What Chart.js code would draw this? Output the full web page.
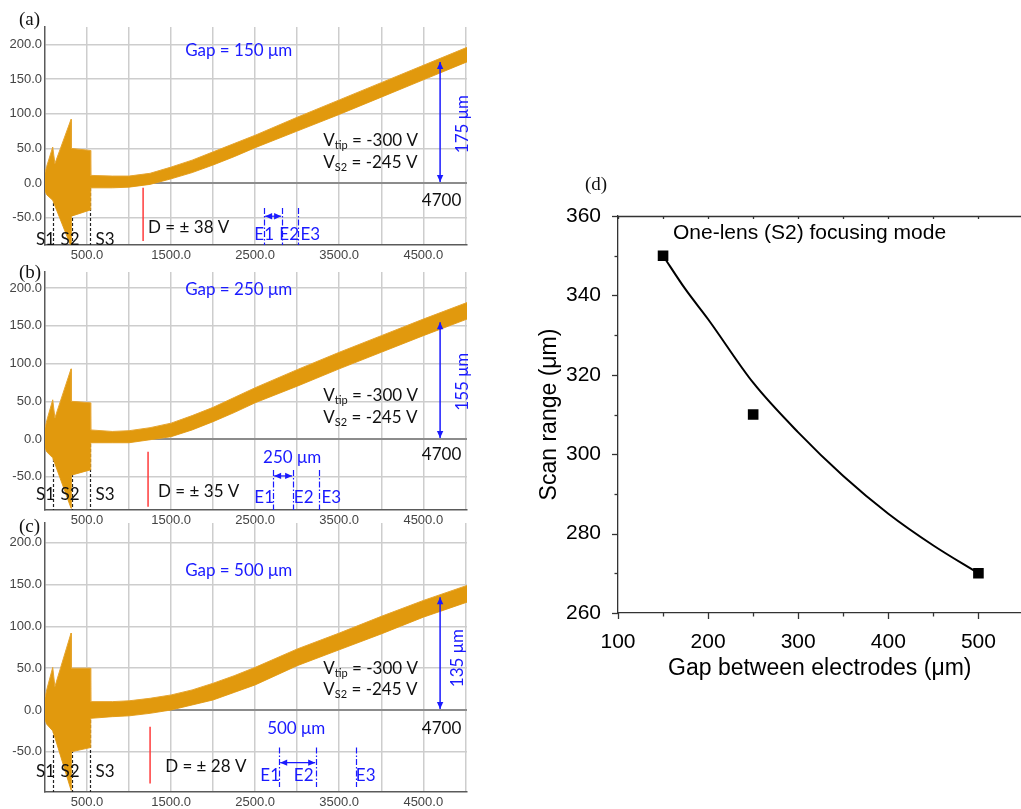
<!DOCTYPE html>
<html>
<head>
<meta charset="utf-8">
<script src="https://cdn.jsdelivr.net/npm/chart.js@4/dist/chart.umd.min.js"></script>
<style>
  body { margin: 0; background: #fff; }
  #wrap { position: relative; width: 1021px; height: 809px; overflow: hidden; }
  canvas { position: absolute; }
  .tag { position: absolute; font-family: "Liberation Serif", "Times New Roman", serif; font-size: 19px; color: #111; line-height: 1; }
</style>
</head>
<body>
<div id="wrap">
  <canvas id="pa" width="475" height="262" style="left:0;top:0"></canvas>
  <canvas id="pb" width="475" height="271" style="left:0;top:256px"></canvas>
  <canvas id="pc" width="475" height="297" style="left:0;top:512px"></canvas>
  <canvas id="pd" width="509" height="540" style="left:520px;top:160px"></canvas>
  <div class="tag" style="left:19px;top:9px">(a)</div>
  <div class="tag" style="left:19px;top:262px">(b)</div>
  <div class="tag" style="left:19px;top:516px">(c)</div>
  <div class="tag" style="left:585px;top:174px">(d)</div>
</div>
<script>
// beam envelope (position along column, µm) -> upper / lower edge (µm)
const beamX  = [0, 20, 92, 118, 310, 314, 540, 544, 800, 1000, 1250, 1500, 1750, 2000, 2250, 2500, 3000, 3500, 4000, 4500, 5020];
const upperA = [15, 24, 52, 28, 92, 50, 47, 11, 10, 10, 14, 23, 33, 45, 57, 69, 95, 120, 145, 170, 196];
const lowerA = [-12, -17, -25, -33, -92, -48, -39, -7, -7, -6, -2, 6, 15, 26, 38, 51, 75, 99, 124, 149, 175];
const upperB = [15, 24, 52, 28, 93, 50, 48, 12, 10, 11, 15, 21, 31, 42, 55, 68, 92, 115, 137, 159, 181];
const lowerB = [-12, -17, -25, -33, -92, -48, -41, -5, -5, -5, -1, 3, 12, 23, 35, 48, 70, 93, 115, 137, 159];
const upperC = [15, 24, 51, 28, 92, 50, 50, 10, 10, 11, 14, 18, 24, 32, 41, 51, 73, 92, 112, 131, 149];
const lowerC = [-12, -17, -25, -33, -96, -50, -45, -10, -8, -7, -4, 0, 6, 12, 21, 30, 53, 72, 91, 111, 129];

const gaps      = [150, 250, 500];   // electrode gap, µm
const halfRange = [175, 155, 135];   // deflection at z = 4700, µm
const deflectV  = [38, 35, 28];      // deflector voltage, ±V
const screenZ   = 4700;

const electrodeS = [95, 322, 540];   // S1, S2, S3
const xGrid    = [500, 1000, 1500, 2000, 2500, 3000, 3500, 4000, 4500, 5000];
const xLabeled = [500, 1500, 2500, 3500, 4500];
const yTicks   = [-50, 0, 50, 100, 150, 200];

// panel (d): scan range vs gap
const gapD   = [150, 250, 500];
const scanD  = [350, 310, 270];
const fitX   = [150, 175, 200, 250, 300, 350, 400, 450, 500];
const fitY   = [350, 341.5, 334, 318, 305.5, 294.5, 285, 277, 270];
const xTicksD = [100, 150, 200, 250, 300, 350, 400, 450, 500];
const yTicksD = [260, 270, 280, 290, 300, 310, 320, 330, 340, 350, 360];

const BLUE = '#1a1aff';
const NOTE_FONT = 'Lato, "Open Sans", sans-serif';
const xy = (xs, ys) => xs.map((v, i) => ({ x: v, y: ys[i] }));

function arrowHead(ctx, x, y, ang) {
  const L = 7, W = 3.2;
  ctx.beginPath();
  ctx.moveTo(x, y);
  ctx.lineTo(x - L * Math.cos(ang) + W * Math.sin(ang), y - L * Math.sin(ang) - W * Math.cos(ang));
  ctx.lineTo(x - L * Math.cos(ang) - W * Math.sin(ang), y - L * Math.sin(ang) + W * Math.cos(ang));
  ctx.closePath();
  ctx.fill();
}
function doubleArrow(ctx, x1, y1, x2, y2) {
  ctx.beginPath(); ctx.moveTo(x1, y1); ctx.lineTo(x2, y2); ctx.stroke();
  const ang = Math.atan2(y2 - y1, x2 - x1);
  arrowHead(ctx, x2, y2, ang);
  arrowHead(ctx, x1, y1, ang + Math.PI);
}

const notes = {
  id: 'notes',
  beforeDatasetsDraw(chart, args, o) {
    const { ctx, chartArea: a, scales: { x, y } } = chart;
    ctx.save();
    ctx.strokeStyle = '#222';
    ctx.lineWidth = 1.2;
    ctx.setLineDash([3, 2]);
    electrodeS.forEach(v => {
      const px = Math.round(x.getPixelForValue(v)) + 0.5;
      ctx.beginPath(); ctx.moveTo(px, y.getPixelForValue(0)); ctx.lineTo(px, a.bottom); ctx.stroke();
    });
    ctx.restore();
  },
  afterDatasetsDraw(chart, args, o) {
    const { ctx, chartArea: a, scales: { x, y } } = chart;
    const X = v => x.getPixelForValue(v), Y = v => y.getPixelForValue(v);
    const i = o.index;
    ctx.save();
    ctx.textBaseline = 'middle';

    // deflector position (red)
    ctx.strokeStyle = '#ff3b3b'; ctx.lineWidth = 1.5;
    ctx.beginPath(); ctx.moveTo(X(o.red[0]), Y(o.red[1])); ctx.lineTo(X(o.red[0]), Y(o.red[2])); ctx.stroke();

    // einzel electrodes E1..E3
    ctx.strokeStyle = BLUE; ctx.fillStyle = BLUE; ctx.lineWidth = 1.2;
    ctx.setLineDash([6, 2, 1.5, 2]);
    o.eX.forEach(v => {
      const px = Math.round(X(v)) + 0.5;
      ctx.beginPath(); ctx.moveTo(px, Y(o.eTop)); ctx.lineTo(px, o.eBot == null ? a.bottom : Y(o.eBot)); ctx.stroke();
    });
    ctx.setLineDash([]);
    doubleArrow(ctx, X(o.eX[0]) + 1, Y(o.eArrowY), X(o.eX[1]) - 1, Y(o.eArrowY));

    // scan range arrow at the screen
    ctx.lineWidth = 1.5;
    doubleArrow(ctx, X(screenZ), Y(0) - 1, X(screenZ), Y(halfRange[i]));

    ctx.font = '17px ' + NOTE_FONT;
    ctx.textAlign = 'center';
    ['E1', 'E2', 'E3'].forEach((t, k) => ctx.fillText(t, X(o.eLabX[k]), Y(o.eLabY)));
    if (o.spacing) ctx.fillText(o.spacing[2], X(o.spacing[0]), Y(o.spacing[1]));
    ctx.textAlign = 'left';
    ctx.fillText('Gap = ' + gaps[i] + ' μm', X(o.gapAt[0]), Y(o.gapAt[1]));

    ctx.save();
    ctx.translate(X(o.rangeAt[0]), Y(o.rangeAt[1]));
    ctx.rotate(-Math.PI / 2);
    ctx.textAlign = 'center';
    ctx.fillText(halfRange[i] + ' μm', 0, 0);
    ctx.restore();

    // black labels
    ctx.fillStyle = '#111';
    ctx.textAlign = 'right';
    ctx.fillText(String(screenZ), X(o.numAt[0]), Y(o.numAt[1]));
    ctx.textAlign = 'left';
    ctx.fillText('D = ± ' + deflectV[i] + ' V', X(o.dAt[0]), Y(o.dAt[1]));
    ctx.textAlign = 'center';
    ['S1', 'S2', 'S3'].forEach((t, k) => ctx.fillText(t, o.sLabPx[k], Y(o.sLabY)));

    // V_tip / V_S2 with subscripts
    ctx.textAlign = 'left';
    [['tip', '-300 V', o.vAt[1]], ['S2', '-245 V', o.vAt[2]]].forEach(([sub, rest, yv]) => {
      let px = X(o.vAt[0]);
      const py = Y(yv);
      ctx.font = '17px ' + NOTE_FONT;
      ctx.fillText('V', px, py); px += ctx.measureText('V').width;
      ctx.font = '11px ' + NOTE_FONT;
      ctx.fillText(sub, px, py + 5); px += ctx.measureText(sub).width;
      ctx.font = '17px ' + NOTE_FONT;
      ctx.fillText(' = ' + rest, px, py);
    });
    ctx.restore();
  }
};

const panels = [
  { id: 'pa', upper: upperA, lower: lowerA, yMin: -89.6, yMax: 225.4, top: 27, xAxisH: 17,
    notes: { index: 0, gapAt: [1667, 192], vAt: [3310, 62, 30], numAt: [4952, -25], rangeAt: [4964, 85],
      dAt: [1226, -65], red: [1167, -7, -84], eX: [2607, 2821, 3012], eTop: -36, eBot: null, eArrowY: -48,
      eLabX: [2607, 2905, 3155], eLabY: -75, spacing: null, sLabPx: [45.5, 70, 105], sLabY: -82 } },
  { id: 'pb', upper: upperB, lower: lowerB, yMin: -94.2, yMax: 221.5, top: 16, xAxisH: 17,
    notes: { index: 1, gapAt: [1667, 198], vAt: [3310, 58, 29], numAt: [4952, -21], rangeAt: [4964, 76],
      dAt: [1345, -70], red: [1226, -17, -90], eX: [2714, 2952, 3262], eTop: -41, eBot: null, eArrowY: -49,
      eLabX: [2607, 3077, 3405], eLabY: -77, spacing: [2940, -24, '250 μm'], sLabPx: [45.5, 70, 105], sLabY: -74 } },
  { id: 'pc', upper: upperC, lower: lowerC, yMin: -98.1, yMax: 223.7, top: 11, xAxisH: 17,
    notes: { index: 2, gapAt: [1667, 167], vAt: [3310, 50, 24], numAt: [4952, -22], rangeAt: [4905, 62],
      dAt: [1429, -68], red: [1250, -20, -88], eX: [2786, 3226, 3702], eTop: -45, eBot: -92, eArrowY: -63,
      eLabX: [2679, 3077, 3815], eLabY: -78, spacing: [2988, -22, '500 μm'], sLabPx: [45.5, 70, 105], sLabY: -74 } }
];

const tickFont = { family: '"Liberation Sans", Arial, sans-serif', size: 13 };

panels.forEach(p => {
  new Chart(document.getElementById(p.id), {
    type: 'line',
    data: {
      datasets: [
        { data: xy(beamX, p.upper), fill: '+1', backgroundColor: '#e1990d', borderColor: '#e6a530',
          borderWidth: 1, pointRadius: 0, tension: 0 },
        { data: xy(beamX, p.lower), fill: false, borderColor: '#e6a530', borderWidth: 1, pointRadius: 0, tension: 0 }
      ]
    },
    options: {
      responsive: false,
      animation: false,
      events: [],
      layout: { padding: { top: p.top, right: 8, left: 0, bottom: 0 } },
      plugins: { legend: { display: false }, tooltip: { enabled: false }, notes: p.notes },
      scales: {
        x: {
          type: 'linear', min: 0, max: 5020,
          afterBuildTicks: s => { s.ticks = xGrid.map(v => ({ value: v })); },
          afterFit: s => { s.height = p.xAxisH; },
          grid: { color: '#cdcdcd', lineWidth: 1.5, drawTicks: false },
          border: { color: '#5a5a5a', width: 1.5 },
          ticks: { autoSkip: false, maxRotation: 0, padding: 3, color: '#444', font: tickFont,
            callback: v => xLabeled.includes(v) ? v.toFixed(1) : '' }
        },
        y: {
          type: 'linear', min: p.yMin, max: p.yMax,
          afterBuildTicks: s => { s.ticks = yTicks.map(v => ({ value: v })); },
          afterFit: s => { s.width = 45; },
          grid: { drawTicks: false,
            color: c => c.tick && c.tick.value === 0 ? '#8c8c8c' : '#cdcdcd',
            lineWidth: c => c.tick && c.tick.value === 0 ? 2 : 1.5 },
          border: { color: '#5a5a5a', width: 1.5 },
          ticks: { padding: 3, color: '#444', font: tickFont, callback: v => v.toFixed(1) }
        }
      }
    },
    plugins: [notes]
  });
});

// axis ticks, top frame and caption for panel (d)
const frameD = {
  id: 'frameD',
  afterDraw(chart) {
    const { ctx, chartArea: a, scales: { x, y } } = chart;
    ctx.save();
    ctx.strokeStyle = '#333';
    ctx.lineWidth = 1.3;
    ctx.beginPath(); ctx.moveTo(a.left, a.top + 0.5); ctx.lineTo(a.right + 5, a.top + 0.5); ctx.stroke();
    xTicksD.forEach(v => {
      const px = Math.round(x.getPixelForValue(v)) + 0.5;
      const len = v % 100 === 0 ? 6 : 3.5;
      ctx.beginPath(); ctx.moveTo(px, a.bottom); ctx.lineTo(px, a.bottom + len); ctx.stroke();
      ctx.beginPath(); ctx.moveTo(px, a.top); ctx.lineTo(px, a.top + 3); ctx.stroke();
    });
    yTicksD.forEach(v => {
      const py = Math.round(y.getPixelForValue(v)) + 0.5;
      const len = v % 20 === 0 ? 6 : 3.5;
      ctx.beginPath(); ctx.moveTo(a.left, py); ctx.lineTo(a.left - len, py); ctx.stroke();
    });
    ctx.fillStyle = '#000';
    ctx.font = '21px "Liberation Sans", Arial, sans-serif';
    ctx.textBaseline = 'middle';
    ctx.fillText('One-lens (S2) focusing mode', x.getPixelForValue(161), y.getPixelForValue(355.7));
    ctx.restore();
  }
};

const fontD = { family: '"Liberation Sans", Arial, sans-serif', size: 21 };
new Chart(document.getElementById('pd'), {
  type: 'scatter',
  data: {
    datasets: [
      { type: 'line', data: xy(fitX, fitY), borderColor: '#000', borderWidth: 2, pointRadius: 0,
        cubicInterpolationMode: 'monotone', fill: false },
      { data: xy(gapD, scanD), pointStyle: 'rect', pointRadius: 7.5, backgroundColor: '#000', borderColor: '#000', borderWidth: 0 }
    ]
  },
  options: {
    responsive: false,
    animation: false,
    events: [],
    layout: { padding: { top: 56, right: 0, left: 0, bottom: 0 } },
    plugins: { legend: { display: false }, tooltip: { enabled: false } },
    scales: {
      x: {
        type: 'linear', min: 100, max: 547.8,
        afterBuildTicks: s => { s.ticks = xTicksD.map(v => ({ value: v })); },
        afterFit: s => { s.height = 87; },
        grid: { display: false },
        border: { color: '#333', width: 1.3 },
        ticks: { autoSkip: false, maxRotation: 0, padding: 9, color: '#000', font: fontD,
          callback: v => v % 100 === 0 ? String(v) : '' },
        title: { display: true, text: 'Gap between electrodes (μm)', color: '#000',
          font: { family: fontD.family, size: 23 }, padding: { bottom: 18 } }
      },
      y: {
        type: 'linear', min: 260, max: 360,
        afterBuildTicks: s => { s.ticks = yTicksD.map(v => ({ value: v })); },
        afterFit: s => { s.width = 98; },
        grid: { display: false },
        border: { color: '#333', width: 1.3 },
        ticks: { padding: 9, color: '#000', font: fontD, callback: v => v % 20 === 0 ? String(v) : '' },
        title: { display: true, text: 'Scan range (μm)', color: '#000',
          font: { family: fontD.family, size: 23 }, padding: { top: 16 } }
      }
    }
  },
  plugins: [frameD]
});
</script>
</body>
</html>
